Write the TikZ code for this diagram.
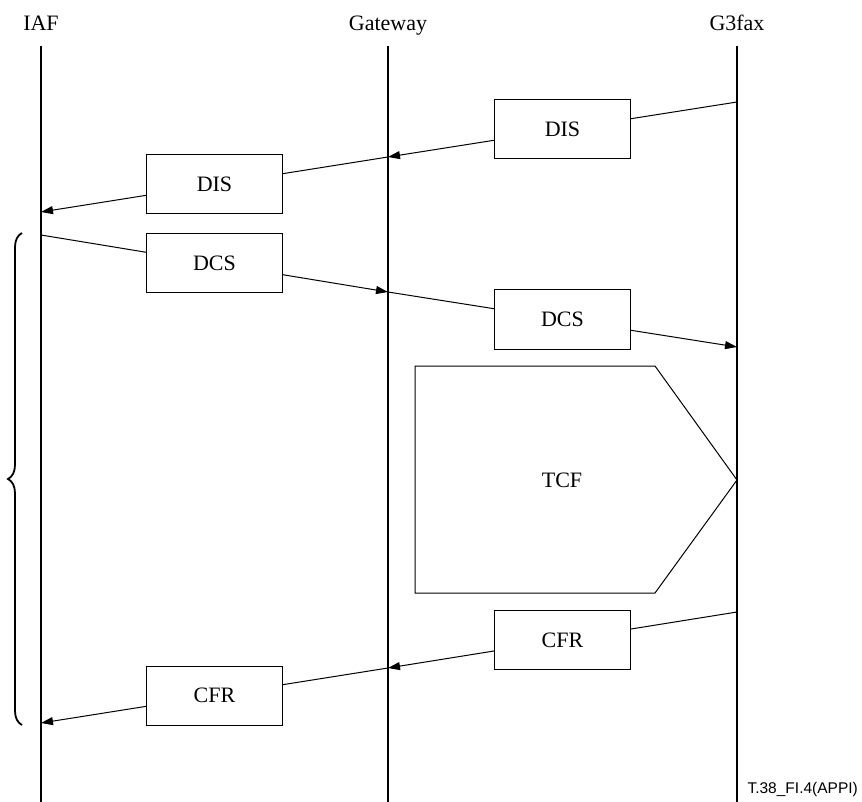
\documentclass[tikz,border=0pt]{standalone}
\usepackage{fontspec}
\setmainfont{Liberation Serif}
\newfontfamily\footfont{Liberation Sans}
\usetikzlibrary{arrows.meta,decorations.pathreplacing}
\begin{document}
\begin{tikzpicture}[x=1pt,y=-1pt,
  life/.style={line width=1.5pt},
  msg/.style={line width=1pt,-{Triangle[length=12pt,width=8pt]}},
  msgbox/.style={draw,line width=1pt,fill=white,minimum width=136pt,minimum height=59pt,inner sep=0pt,font=\fontsize{22}{26}\selectfont},
  head/.style={font=\fontsize{22}{26}\selectfont,anchor=base,inner sep=0pt},
  bigbrace/.style={line width=1.8pt,decorate,decoration={brace,amplitude=14pt}}]
\useasboundingbox (0,0) rectangle (862,802);
% headers
\node[head] (iaf) at (41,31) {IAF};
\node[head] (gw) at (388,31) {Gateway};
\node[head] (g3) at (737,31) {G3fax};
% lifelines
\coordinate (iafTop) at (41,46);  \coordinate (iafBot) at (41,802);
\coordinate (gwTop) at (388,46);  \coordinate (gwBot) at (388,802);
\coordinate (g3Top) at (737,46);  \coordinate (g3Bot) at (737,802);
\draw[life] (iafTop) -- (iafBot);
\draw[life] (gwTop) -- (gwBot);
\draw[life] (g3Top) -- (g3Bot);
% message points
\coordinate (g1) at (737,102); \coordinate (g2) at (737,347); \coordinate (g3m) at (737,612);
\coordinate (w1) at (388,157); \coordinate (w2) at (388,292); \coordinate (w3) at (388,668);
\coordinate (i1) at (41,212);  \coordinate (i2) at (41,235);  \coordinate (i3) at (41,723);
% messages
\draw[msg] (g1) -- node[msgbox] (dis1) {DIS} (w1);
\draw[msg] (w1) -- node[msgbox] (dis2) {DIS} (i1);
\draw[msg] (i2) -- node[msgbox] (dcs1) {DCS} (w2);
\draw[msg] (w2) -- node[msgbox] (dcs2) {DCS} (g2);
\draw[msg] (g3m) -- node[msgbox] (cfr1) {CFR} (w3);
\draw[msg] (w3) -- node[msgbox] (cfr2) {CFR} (i3);
% TCF
\draw[line width=1pt] (415,366) -- (655,366) -- (737,480) -- (655,593) -- (415,593) -- cycle;
\node[font=\fontsize{22}{26}\selectfont] (tcf) at (562,480) {TCF};
% brace
\coordinate (brBot) at (22,725); \coordinate (brTop) at (22,233);
\draw[bigbrace] (brBot) -- (brTop);
% footer
\node[anchor=base east,inner sep=0pt,font=\footfont\fontsize{15.5}{18}\selectfont] (ref) at (858,793) {T.38\_FI.4(APPI)};
\end{tikzpicture}
\end{document}
